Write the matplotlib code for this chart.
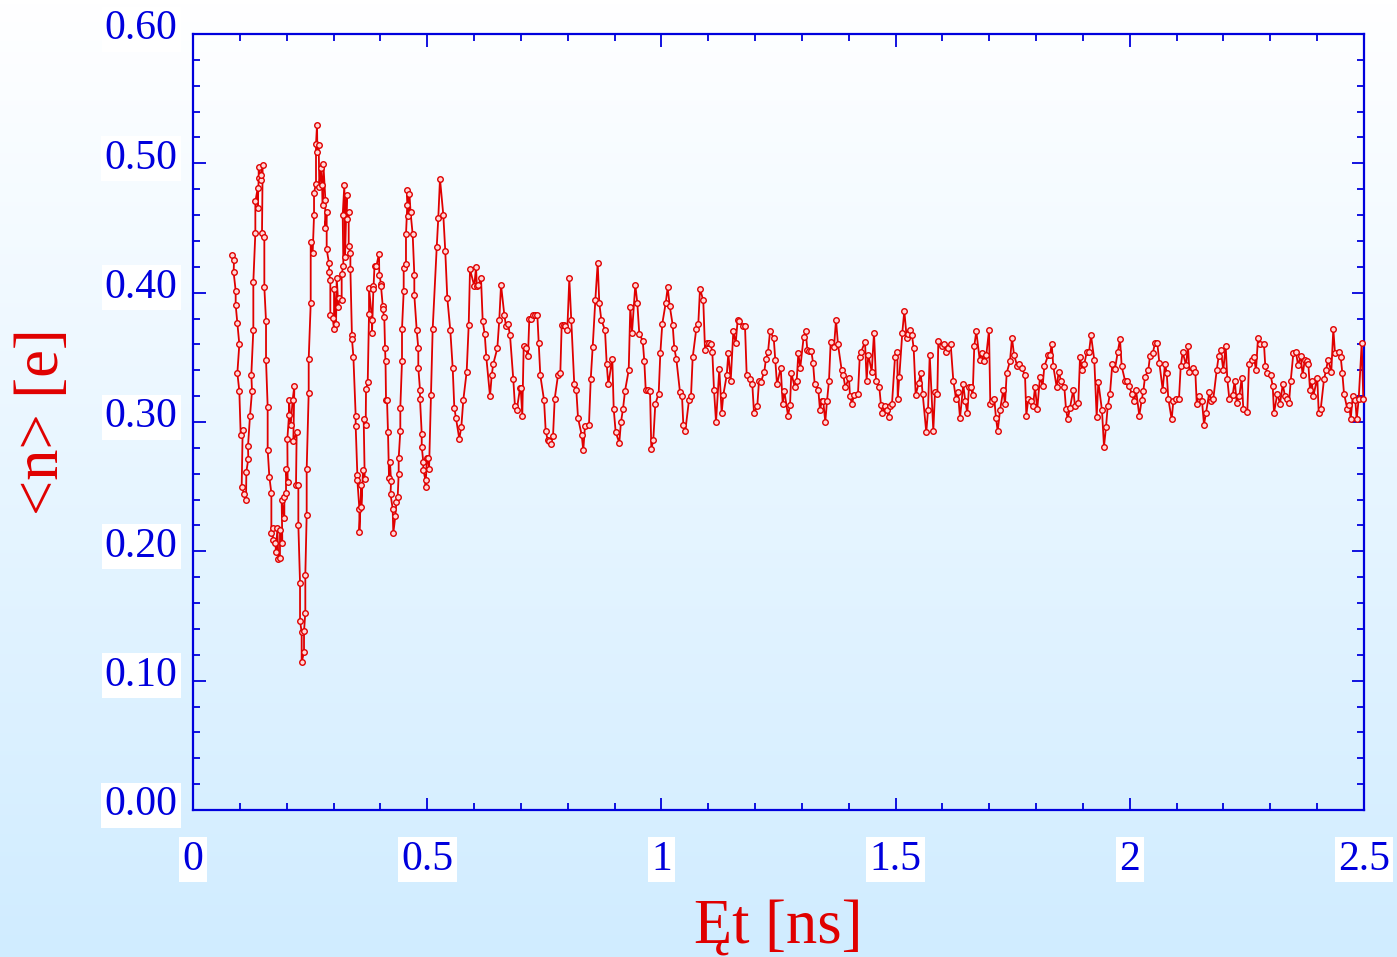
import numpy as np
import matplotlib
matplotlib.use("Agg")
import matplotlib.pyplot as plt
import matplotlib.transforms as mtransforms
from matplotlib.ticker import MultipleLocator, FixedLocator, FixedFormatter

# ---------------- data ----------------
t_ns = [
    0.0826, 0.0875, 0.0868, 0.0911, 0.0911, 0.0947, 0.0989, 0.0947, 0.0989, 0.1018,
    0.1060, 0.1039, 0.1096, 0.1132, 0.1139, 0.1181, 0.1174, 0.1217, 0.1260, 0.1245,
    0.1288, 0.1288, 0.1331, 0.1331, 0.1381, 0.1381, 0.1402, 0.1402, 0.1452, 0.1452,
    0.1487, 0.1473, 0.1523, 0.1523, 0.1559, 0.1559, 0.1594, 0.1594, 0.1630, 0.1673,
    0.1673, 0.1715, 0.1701, 0.1758, 0.1772, 0.1801, 0.1822, 0.1857, 0.1857, 0.1907,
    0.1893, 0.1950, 0.1950, 0.1986, 0.1986, 0.2021, 0.2014, 0.2050, 0.2050, 0.2085,
    0.2128, 0.2164, 0.2142, 0.2213, 0.2199, 0.2249, 0.2249, 0.2285, 0.2285, 0.2320,
    0.2320, 0.2370, 0.2370, 0.2398, 0.2398, 0.2427, 0.2427, 0.2470, 0.2470, 0.2513,
    0.2513, 0.2555, 0.2584, 0.2584, 0.2626, 0.2626, 0.2648, 0.2655, 0.2683, 0.2697,
    0.2726, 0.2754, 0.2769, 0.2783, 0.2826, 0.2819, 0.2854, 0.2854, 0.2904, 0.2904,
    0.2932, 0.2932, 0.2982, 0.3011, 0.3011, 0.3054, 0.3068, 0.3104, 0.3125, 0.3174,
    0.3174, 0.3210, 0.3196, 0.3231, 0.3246, 0.3281, 0.3281, 0.3324, 0.3324, 0.3360,
    0.3360, 0.3395, 0.3395, 0.3424, 0.3473, 0.3473, 0.3509, 0.3509, 0.3552, 0.3552,
    0.3594, 0.3594, 0.3630, 0.3666, 0.3644, 0.3687, 0.3694, 0.3730, 0.3758, 0.3758,
    0.3822, 0.3822, 0.3853, 0.3853, 0.3875, 0.3917, 0.3971, 0.3977, 0.4014, 0.4014,
    0.4050, 0.4050, 0.4084, 0.4100, 0.4110, 0.4121, 0.4142, 0.4163, 0.4185, 0.4206,
    0.4228, 0.4217, 0.4263, 0.4276, 0.4319, 0.4342, 0.4370, 0.4391, 0.4391, 0.4426,
    0.4426, 0.4462, 0.4462, 0.4498, 0.4498, 0.4547, 0.4547, 0.4575, 0.4575, 0.4600,
    0.4622, 0.4645, 0.4690, 0.4725, 0.4725, 0.4776, 0.4810, 0.4810, 0.4846, 0.4846,
    0.4883, 0.4883, 0.4917, 0.4917, 0.4964, 0.4964, 0.4995, 0.5017, 0.5040, 0.5081,
    0.5117, 0.5203, 0.5237, 0.5273, 0.5344, 0.5386, 0.5429, 0.5493, 0.5544, 0.5579,
    0.5615, 0.5685, 0.5728, 0.5771, 0.5843, 0.5886, 0.5914, 0.6006, 0.6042, 0.6060,
    0.6090, 0.6149, 0.6185, 0.6228, 0.6262, 0.6341, 0.6377, 0.6411, 0.6497, 0.6539,
    0.6576, 0.6646, 0.6682, 0.6725, 0.6768, 0.6838, 0.6874, 0.6911, 0.6981, 0.6996,
    0.7030, 0.7060, 0.7103, 0.7152, 0.7180, 0.7216, 0.7265, 0.7308, 0.7351, 0.7380,
    0.7415, 0.7494, 0.7530, 0.7573, 0.7607, 0.7643, 0.7686, 0.7722, 0.7792, 0.7842,
    0.7871, 0.7914, 0.7949, 0.7991, 0.8034, 0.8076, 0.8140, 0.8183, 0.8220, 0.8298,
    0.8332, 0.8369, 0.8454, 0.8491, 0.8533, 0.8589, 0.8640, 0.8674, 0.8717, 0.8796,
    0.8832, 0.8866, 0.8952, 0.8982, 0.9024, 0.9101, 0.9137, 0.9180, 0.9223, 0.9302,
    0.9336, 0.9372, 0.9443, 0.9486, 0.9528, 0.9601, 0.9635, 0.9665, 0.9708, 0.9757,
    0.9785, 0.9827, 0.9870, 0.9942, 0.9977, 1.0019, 1.0092, 1.0134, 1.0177, 1.0241,
    1.0275, 1.0318, 1.0397, 1.0440, 1.0468, 1.0510, 1.0589, 1.0632, 1.0668, 1.0745,
    1.0788, 1.0824, 1.0894, 1.0931, 1.0967, 1.1010, 1.1053, 1.1087, 1.1123, 1.1166,
    1.1236, 1.1287, 1.1322, 1.1394, 1.1429, 1.1480, 1.1535, 1.1586, 1.1629, 1.1663,
    1.1736, 1.1785, 1.1821, 1.1892, 1.1941, 1.1977, 1.2047, 1.2084, 1.2126, 1.2197,
    1.2233, 1.2276, 1.2319, 1.2398, 1.2432, 1.2468, 1.2547, 1.2590, 1.2624, 1.2703,
    1.2746, 1.2773, 1.2846, 1.2889, 1.2923, 1.2965, 1.3038, 1.3081, 1.3115, 1.3158,
    1.3200, 1.3237, 1.3273, 1.3350, 1.3386, 1.3422, 1.3456, 1.3499, 1.3535, 1.3578,
    1.3614, 1.3685, 1.3728, 1.3770, 1.3849, 1.3883, 1.3926, 1.4005, 1.4026, 1.4069,
    1.4112, 1.4197, 1.4234, 1.4261, 1.4347, 1.4382, 1.4417, 1.4490, 1.4539, 1.4582,
    1.4652, 1.4688, 1.4716, 1.4774, 1.4810, 1.4852, 1.4880, 1.4923, 1.4987, 1.5036,
    1.5045, 1.5079, 1.5143, 1.5186, 1.5237, 1.5271, 1.5307, 1.5350, 1.5386, 1.5429,
    1.5493, 1.5536, 1.5578, 1.5655, 1.5692, 1.5728, 1.5805, 1.5841, 1.5891, 1.5912,
    1.5991, 1.6033, 1.6076, 1.6125, 1.6176, 1.6232, 1.6289, 1.6332, 1.6375, 1.6445,
    1.6488, 1.6531, 1.6567, 1.6603, 1.6646, 1.6680, 1.6723, 1.6796, 1.6838, 1.6887,
    1.6937, 1.6994, 1.7022, 1.7064, 1.7107, 1.7143, 1.7180, 1.7229, 1.7299, 1.7336,
    1.7372, 1.7442, 1.7485, 1.7528, 1.7598, 1.7641, 1.7692, 1.7763, 1.7791, 1.7833,
    1.7884, 1.7933, 1.7976, 1.8025, 1.8083, 1.8140, 1.8175, 1.8260, 1.8296, 1.8333,
    1.8367, 1.8439, 1.8482, 1.8531, 1.8602, 1.8638, 1.8674, 1.8723, 1.8794, 1.8830,
    1.8901, 1.8937, 1.8986, 1.9029, 1.9080, 1.9129, 1.9172, 1.9242, 1.9293, 1.9328,
    1.9406, 1.9449, 1.9492, 1.9528, 1.9577, 1.9627, 1.9684, 1.9742, 1.9791, 1.9827,
    1.9898, 1.9947, 1.9983, 2.0041, 2.0096, 2.0132, 2.0203, 2.0254, 2.0289, 2.0325,
    2.0395, 2.0431, 2.0489, 2.0538, 2.0587, 2.0630, 2.0702, 2.0751, 2.0788, 2.0822,
    2.0894, 2.0929, 2.0986, 2.1050, 2.1087, 2.1129, 2.1200, 2.1243, 2.1271, 2.1343,
    2.1399, 2.1429, 2.1471, 2.1542, 2.1584, 2.1627, 2.1697, 2.1740, 2.1783, 2.1855,
    2.1898, 2.1941, 2.1996, 2.2047, 2.2082, 2.2124, 2.2197, 2.2240, 2.2282, 2.2338,
    2.2389, 2.2423, 2.2509, 2.2545, 2.2603, 2.2652, 2.2694, 2.2737, 2.2780, 2.2865,
    2.2893, 2.2936, 2.3008, 2.3051, 2.3079, 2.3150, 2.3207, 2.3265, 2.3314, 2.3363,
    2.3399, 2.3436, 2.3491, 2.3548, 2.3591, 2.3648, 2.3691, 2.3734, 2.3777, 2.3811,
    2.3847, 2.3883, 2.3918, 2.4003, 2.4033, 2.4076, 2.4146, 2.4189, 2.4232, 2.4302,
    2.4345, 2.4381, 2.4460, 2.4503, 2.4537, 2.4573, 2.4644, 2.4686, 2.4716, 2.4759,
    2.4814, 2.4844, 2.4887, 2.4951, 2.4985,
]

n_e = [
    0.4294, 0.4249, 0.4156, 0.4015, 0.3904, 0.3766, 0.3601, 0.3378, 0.3240, 0.2900,
    0.2935, 0.2494, 0.2443, 0.2398, 0.2616, 0.2714, 0.2812, 0.3049, 0.3240, 0.3365,
    0.3712, 0.4084, 0.4459, 0.4705, 0.4806, 0.4652, 0.4886, 0.4971, 0.4873, 0.4913,
    0.4984, 0.4459, 0.4427, 0.4042, 0.3779, 0.3476, 0.3118, 0.2786, 0.2576, 0.2451,
    0.2138, 0.2178, 0.2090, 0.2066, 0.1997, 0.2178, 0.1939, 0.1952, 0.2162, 0.2066,
    0.2396, 0.2257, 0.2417, 0.2451, 0.2635, 0.2536, 0.2868, 0.3054, 0.3173, 0.2974,
    0.3173, 0.3280, 0.2855, 0.2921, 0.2510, 0.2510, 0.2204, 0.1758, 0.1461, 0.1376,
    0.1142, 0.1222, 0.1381, 0.1527, 0.1819, 0.2284, 0.2635, 0.3227, 0.3487, 0.3917,
    0.4389, 0.4307, 0.4599, 0.4774, 0.4843, 0.5146, 0.5300, 0.5085, 0.5138, 0.4820,
    0.4966, 0.4833, 0.4681, 0.4997, 0.4719, 0.4501, 0.4620, 0.4334, 0.4228, 0.4156,
    0.4097, 0.3824, 0.3803, 0.3718, 0.4031, 0.3758, 0.4116, 0.3890, 0.3957, 0.3943,
    0.4143, 0.4209, 0.4599, 0.4833, 0.4275, 0.4758, 0.4567, 0.4620, 0.4360, 0.4307,
    0.4182, 0.3670, 0.3638, 0.3505, 0.3049, 0.2969, 0.2589, 0.2550, 0.2329, 0.2151,
    0.2510, 0.2345, 0.2629, 0.2563, 0.3022, 0.2980, 0.3253, 0.3306, 0.3837, 0.4036,
    0.3790, 0.3690, 0.4050, 0.4030, 0.4210, 0.4210, 0.4300, 0.4140, 0.4070, 0.4050,
    0.3900, 0.3870, 0.3810, 0.3570, 0.3470, 0.3170, 0.3170, 0.2920, 0.2570, 0.2690,
    0.2540, 0.2440, 0.2330, 0.2140, 0.2270, 0.2380, 0.2420, 0.2600, 0.2720, 0.2930,
    0.3110, 0.3470, 0.3720, 0.4010, 0.4190, 0.4220, 0.4450, 0.4680, 0.4790, 0.4590,
    0.4760, 0.4620, 0.4450, 0.4140, 0.3980, 0.3710, 0.3570, 0.3420, 0.3250, 0.3180,
    0.2910, 0.2810, 0.2690, 0.2630, 0.2550, 0.2500, 0.2720, 0.2720, 0.2640, 0.3210,
    0.3720, 0.4350, 0.4580, 0.4880, 0.4600, 0.4320, 0.3960, 0.3710, 0.3420, 0.3110,
    0.3030, 0.2870, 0.2960, 0.3170, 0.3390, 0.3750, 0.4180, 0.4050, 0.4200, 0.4050,
    0.4060, 0.4110, 0.3780, 0.3680, 0.3500, 0.3200, 0.3360, 0.3450, 0.3570, 0.3790,
    0.4060, 0.3830, 0.3740, 0.3760, 0.3670, 0.3330, 0.3120, 0.3090, 0.3260, 0.3260,
    0.3050, 0.3590, 0.3570, 0.3510, 0.3800, 0.3800, 0.3830, 0.3830, 0.3830, 0.3610,
    0.3360, 0.3170, 0.2930, 0.2860, 0.2850, 0.2830, 0.2890, 0.3180, 0.3360, 0.3380,
    0.3750, 0.3750, 0.3740, 0.3710, 0.4110, 0.3790, 0.3290, 0.3250, 0.3030, 0.2900,
    0.2780, 0.2970, 0.2980, 0.3330, 0.3580, 0.3940, 0.4230, 0.3920, 0.3790, 0.3710,
    0.3450, 0.3290, 0.3490, 0.3100, 0.2920, 0.2840, 0.3000, 0.3100, 0.3240, 0.3400,
    0.3890, 0.3690, 0.4060, 0.3920, 0.3680, 0.3630, 0.3470, 0.3250, 0.3250, 0.3240,
    0.2790, 0.2860, 0.3140, 0.3220, 0.3530, 0.3760, 0.3920, 0.4040, 0.3900, 0.3750,
    0.3570, 0.3490, 0.3230, 0.3200, 0.2980, 0.2930, 0.3170, 0.3200, 0.3500, 0.3720,
    0.3760, 0.4030, 0.3940, 0.3560, 0.3610, 0.3610, 0.3600, 0.3540, 0.3250, 0.3000,
    0.3410, 0.3070, 0.3210, 0.3360, 0.3530, 0.3320, 0.3700, 0.3610, 0.3790, 0.3780,
    0.3740, 0.3740, 0.3360, 0.3330, 0.3290, 0.3070, 0.3120, 0.3320, 0.3310, 0.3390,
    0.3490, 0.3540, 0.3700, 0.3650, 0.3480, 0.3290, 0.3420, 0.3140, 0.3240, 0.3050,
    0.3130, 0.3380, 0.3270, 0.3320, 0.3530, 0.3420, 0.3660, 0.3700, 0.3560, 0.3550,
    0.3550, 0.3460, 0.3290, 0.3250, 0.3090, 0.3160, 0.3160, 0.3000, 0.3160, 0.3320,
    0.3620, 0.3580, 0.3790, 0.3600, 0.3400, 0.3360, 0.3270, 0.3340, 0.3200, 0.3140,
    0.3210, 0.3220, 0.3500, 0.3540, 0.3620, 0.3320, 0.3520, 0.3390, 0.3690, 0.3320,
    0.3270, 0.3130, 0.3070, 0.3120, 0.3090, 0.3040, 0.3120, 0.3140, 0.3500, 0.3540,
    0.3180, 0.3350, 0.3690, 0.3860, 0.3650, 0.3680, 0.3710, 0.3670, 0.3570, 0.3210,
    0.3300, 0.3380, 0.3220, 0.2920, 0.3090, 0.3520, 0.2930, 0.3230, 0.3220, 0.3630,
    0.3590, 0.3600, 0.3540, 0.3570, 0.3600, 0.3320, 0.3180, 0.3230, 0.3030, 0.3290,
    0.3160, 0.3070, 0.3270, 0.3270, 0.3210, 0.3590, 0.3700, 0.3480, 0.3530, 0.3470,
    0.3520, 0.3710, 0.3140, 0.3160, 0.3180, 0.3030, 0.2930, 0.3090, 0.3250, 0.3140,
    0.3380, 0.3470, 0.3650, 0.3520, 0.3430, 0.3450, 0.3420, 0.3360, 0.3050, 0.3180,
    0.3160, 0.3120, 0.3270, 0.3100, 0.3350, 0.3280, 0.3430, 0.3520, 0.3520, 0.3600,
    0.3430, 0.3270, 0.3390, 0.3320, 0.3270, 0.3100, 0.3020, 0.3110, 0.3250, 0.3120,
    0.3150, 0.3500, 0.3400, 0.3450, 0.3540, 0.3540, 0.3670, 0.3480, 0.3040, 0.3310,
    0.3090, 0.2810, 0.2960, 0.3120, 0.3220, 0.3450, 0.3410, 0.3540, 0.3640, 0.3430,
    0.3320, 0.3320, 0.3280, 0.3220, 0.3160, 0.3250, 0.3050, 0.3170, 0.3240, 0.3350,
    0.3400, 0.3510, 0.3530, 0.3610, 0.3610, 0.3460, 0.3250, 0.3450, 0.3380, 0.3180,
    0.3020, 0.3160, 0.3180, 0.3180, 0.3430, 0.3540, 0.3440, 0.3590, 0.3390, 0.3420,
    0.3390, 0.3140, 0.3200, 0.3160, 0.2980, 0.3070, 0.3230, 0.3160, 0.3180, 0.3400,
    0.3510, 0.3560, 0.3400, 0.3590, 0.3330, 0.3180, 0.3210, 0.3320, 0.3150, 0.3200,
    0.3340, 0.3100, 0.3080, 0.3450, 0.3480, 0.3500, 0.3400, 0.3650, 0.3600, 0.3600,
    0.3430, 0.3380, 0.3360, 0.3280, 0.3070, 0.3220, 0.3140, 0.3290, 0.3200, 0.3180,
    0.3150, 0.3320, 0.3530, 0.3540, 0.3440, 0.3510, 0.3360, 0.3480, 0.3470, 0.3450,
    0.3250, 0.3320, 0.3200, 0.3340, 0.3070, 0.3100, 0.3330, 0.3400, 0.3480, 0.3390,
    0.3720, 0.3530, 0.3540, 0.3500, 0.3380, 0.3220, 0.3100, 0.3130, 0.3020, 0.3200,
    0.3170, 0.3020, 0.3180, 0.3610, 0.3180,
]

x_ticks = [0, 0.5, 1.0, 1.5, 2.0, 2.5]
x_tick_labels = ["0", "0.5", "1", "1.5", "2", "2.5"]
y_ticks = [0.0, 0.1, 0.2, 0.3, 0.4, 0.5, 0.6]
y_tick_labels = ["0.00", "0.10", "0.20", "0.30", "0.40", "0.50", "0.60"]

# ---------------- styling ----------------
RED = "#e00000"
BLUE = "#0000dd"
plt.rcParams["font.family"] = ["Liberation Serif", "DejaVu Serif"]

W, H, DPI = 1397, 957, 100
fig = plt.figure(figsize=(W / DPI, H / DPI), dpi=DPI)

# gradient background (white at top -> light blue at bottom)
bg = fig.add_axes([0, 0, 1, 1], zorder=-10)
top = np.array([1.0, 1.0, 1.0])
bot = np.array([208, 236, 255]) / 255.0
frac = np.linspace(0, 1, 256)[:, None]
grad = (top[None, :] * (1 - frac) + bot[None, :] * frac)[:, None, :]
bg.imshow(grad, aspect="auto", extent=[0, 1, 0, 1], origin="upper")
bg.set_axis_off()

ax = fig.add_axes([193 / W, 1 - 810 / H, (1364 - 193) / W, (810 - 34) / H])
ax.set_facecolor("none")

ax.plot(t_ns, n_e, color=RED, lw=1.3, marker="o", ms=4.0, mec=RED,
        mfc="#ffd8d8", mew=1.0, clip_on=False, zorder=3)

ax.set_xlim(0, 2.5)
ax.set_ylim(0, 0.6)

ax.xaxis.set_major_locator(FixedLocator(x_ticks))
ax.xaxis.set_major_formatter(FixedFormatter(x_tick_labels))
ax.xaxis.set_minor_locator(MultipleLocator(0.1))
ax.yaxis.set_major_locator(FixedLocator(y_ticks))
ax.yaxis.set_minor_locator(MultipleLocator(0.02))

for s in ax.spines.values():
    s.set_color(BLUE)
    s.set_linewidth(1.6)

ax.tick_params(which="both", direction="in", top=True, right=True,
               color=BLUE, labelcolor=BLUE, labelsize=30, width=1.3)
ax.tick_params(which="major", length=9)
ax.tick_params(which="minor", length=5)
ax.tick_params(axis="x", which="major", pad=22)
ax.tick_params(axis="y", labelleft=False)

box = dict(boxstyle="square,pad=0.08", facecolor="white", edgecolor="none")
for lab in ax.get_xticklabels():
    lab.set_bbox(box)

# y tick labels drawn as texts (slightly raised, as in the reference)
ytr = mtransforms.offset_copy(ax.get_yaxis_transform(), fig=fig,
                              x=-11, y=3.5, units="points")
for yv, yl in zip(y_ticks, y_tick_labels):
    ax.text(0, yv, yl, transform=ytr, ha="right", va="center",
            fontsize=30, color=BLUE, bbox=box, clip_on=False)

ax.set_xlabel("Ęt [ns]", color=RED, fontsize=45, labelpad=14)
ax.set_ylabel("<n> [e]", color=RED, fontsize=45, labelpad=84)

fig.savefig("out.png", dpi=DPI)
